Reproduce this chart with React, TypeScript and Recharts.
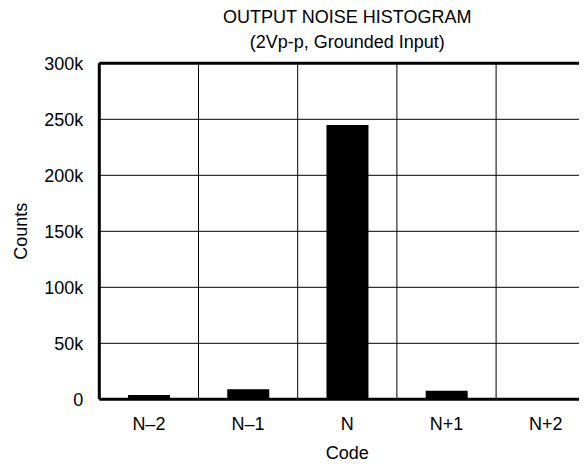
import { Bar, BarChart, CartesianGrid, Label, ReferenceLine, XAxis, YAxis } from "recharts";

const categories = ["N–2", "N–1", "N", "N+1", "N+2"];
const counts = [3800, 9000, 245000, 7700, 0];
const yTicks = [0, 50000, 100000, 150000, 200000, 250000, 300000];
const titleLines = ["OUTPUT NOISE HISTOGRAM", "(2Vp-p, Grounded Input)"];

const data = categories.map((code, i) => ({ code, counts: counts[i] }));

const font = '"Liberation Sans", Arial, Helvetica, sans-serif';
const fmtK = (v: number) => (v === 0 ? "0" : `${v / 1000}k`);

export default function App() {
  return (
    <div style={{ position: "relative", width: 579, height: 463, overflowX: "clip", fontFamily: font }}>
      {titleLines.map((t, i) => (
        <div
          key={t}
          style={{
            position: "absolute",
            left: 91.3,
            width: 496,
            top: i * 25,
            textAlign: "center",
            fontSize: 18,
            lineHeight: "19px",
            color: "#000",
          }}
        >
          {t}
        </div>
      ))}
      <BarChart
        width={600}
        height={463}
        data={data}
        margin={{ top: 55.3, right: 12.7, bottom: 21.7, left: 0 }}
        barCategoryGap="29%"
      >
        <CartesianGrid
          stroke="#000"
          strokeWidth={1}
          verticalCoordinatesGenerator={({ offset }: any) =>
            categories.slice(1).map((_, i) => offset.left + (offset.width * (i + 1)) / categories.length)
          }
        />
        <XAxis
          dataKey="code"
          tickLine={false}
          tickMargin={12}
          height={50}
          axisLine={{ stroke: "#000", strokeWidth: 3 }}
          tick={{ fill: "#000", fontSize: 18, fontFamily: font }}
        >
          <Label
            content={({ viewBox }: any) => (
              <text
                x={viewBox.x + viewBox.width / 2}
                y={viewBox.y + 60}
                textAnchor="middle"
                fontSize={18}
                fontFamily={font}
                fill="#000"
              >
                Code
              </text>
            )}
          />
        </XAxis>
        <YAxis
          domain={[0, 300000]}
          ticks={yTicks}
          interval={0}
          width={91.3}
          tickLine={false}
          tickSize={6}
          tickMargin={10}
          tickFormatter={fmtK}
          axisLine={{ stroke: "#000", strokeWidth: 3 }}
          tick={{ fill: "#000", fontSize: 18, fontFamily: font }}
        >
          <Label
            content={({ viewBox }: any) => {
              const x = viewBox.x + 19;
              const y = viewBox.y + viewBox.height / 2;
              return (
                <text
                  x={x}
                  y={y}
                  transform={`rotate(-90 ${x} ${y})`}
                  textAnchor="middle"
                  fontSize={18}
                  fontFamily={font}
                  fill="#000"
                >
                  Counts
                </text>
              );
            }}
          />
        </YAxis>
        <ReferenceLine y={300000} stroke="#000" strokeWidth={3} />
        <Bar dataKey="counts" fill="#000" isAnimationActive={false} />
      </BarChart>
    </div>
  );
}
